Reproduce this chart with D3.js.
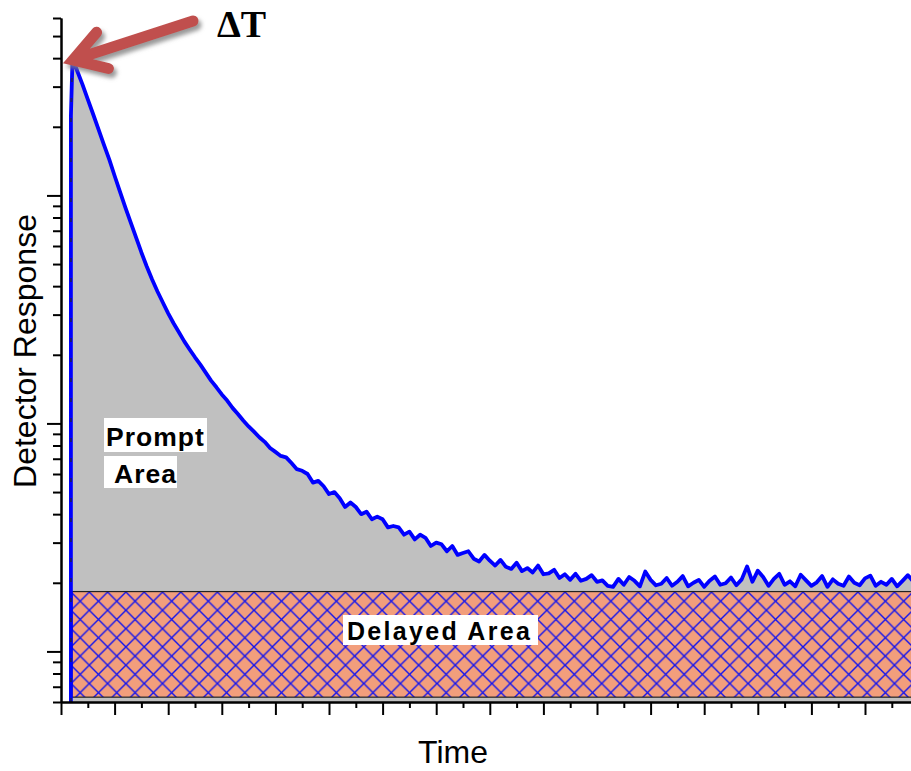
<!DOCTYPE html>
<html>
<head>
<meta charset="utf-8">
<script src="https://cdn.jsdelivr.net/npm/d3@7"></script>
<style>
html,body{margin:0;padding:0;background:#fff;}
svg{display:block;}
</style>
</head>
<body>
<svg id="chart" width="911" height="771"></svg>
<script>
// ---- data ----
const times = [0.185,0.185,0.215,0.3,0.4,0.5,0.6,0.7,0.8,0.9,1.0,1.1,1.2,1.3,1.4,1.5,1.6,1.7,1.8,1.9,2.0,
2.1,2.2,2.3,2.4,2.5,2.6,2.7,2.8,2.9,3.0,3.1,3.2,3.3,3.4,3.5,3.6,3.7,3.8,3.9,4.0,
4.1,4.2,4.3,4.4,4.5,4.6,4.7,4.8,4.9,5.0,5.1,5.2,5.3,5.4,5.5,5.6,5.7,5.8,5.9,6.0,
6.1,6.2,6.3,6.4,6.5,6.6,6.7,6.8,6.9,7.0,7.1,7.2,7.3,7.4,7.5,7.6,7.7,7.8,7.9,8.0,
8.1,8.2,8.3,8.4,8.5,8.6,8.7,8.8,8.9,9.0,9.1,9.2,9.3,9.4,9.5,9.6,9.7,9.8,9.9,10.0,
10.1,10.2,10.3,10.4,10.5,10.6,10.7,10.8,10.9,11.0,11.1,11.2,11.3,11.4,11.5,11.6,11.7,11.8,11.9,12.0,
12.1,12.2,12.3,12.4,12.5,12.6,12.7,12.8,12.9,13.0,13.1,13.2,13.3,13.4,13.5,13.6,13.7,13.8,13.9,14.0,
14.1,14.2,14.3,14.4,14.5,14.6,14.7,14.8,14.9,15.0,15.1,15.2,15.3,15.4,15.5,15.6,15.7,15.8,15.9];
const response = [6,2240,3990,3530,3070,2640,2270,1950,1670,1440,1220,1040,886,761,654,562,488,428,379,339,304,
275,251,229,211,195,181,167,154,144,134,126,117,110,103,97,92,87,83,78,
75,72,71,67,63,62,60,55,56,53,
49,50,47,43,45,43,40,41,38,39,
38,35,35.5,35,32.5,33.5,31,32.5,31.5,29,
30,29.5,27.5,29,26.5,27,27.5,25.5,24.8,26.5,
25,23.8,25.2,23.5,23,24.5,22.5,23.2,22.2,23.8,
21.8,22,22.8,21,21.8,20.6,21.9,20.4,20.8,21.6,
20.2,
20.5,19.4,19.2,20.8,19.6,21.2,20.4,19.3,22.4,20.6,
19.5,19.8,21,19.4,20.2,21.4,19.3,20,20.6,19.2,
20.4,21.3,19.6,19.9,21.1,19.5,20.7,23.6,20.2,22.6,
21.2,19.4,20.8,21.9,19.6,20.3,19.3,21.7,20.5,19.4,
20.1,21.4,19.2,20.7,19.8,19.4,21.3,20,19.5,20.9,
21.5,19.4,20.2,19.6,20.8,19.3,20.4,21.6,20.3];
const delayedLevel = 18.3;   // top of delayed area
const delayedFloor = 6.3;    // bottom of delayed area
const yDomain = [6, 6000];
const yMajorTicks = [10, 100, 1000];
const yMinorTicks = [6,7,8,9,20,30,40,50,60,70,80,90,200,300,400,500,600,700,800,900,2000,3000,4000,5000,6000];
const xDomain = [0, 16];
const xMajorTicks = [0,1,2,3,4,5,6,7,8,9,10,11,12,13,14,15];
const xMinorTicks = [0.5,1.5,2.5,3.5,4.5,5.5,6.5,7.5,8.5,9.5,10.5,11.5,12.5,13.5,14.5,15.5];
const labels = {y: "Detector Response", x: "Time", prompt1: "Prompt", prompt2: "Area", delayed: "Delayed Area", dT: "ΔT"};

// ---- drawing ----
const svg = d3.select("#chart");
const W = 911, H = 771;
svg.append("rect").attr("width", W).attr("height", H).attr("fill", "#fff");

const x = d3.scaleLinear().domain(xDomain).range([61, 61 + 16 * 53.6]);
const y = d3.scaleLog().domain(yDomain).range([702, 18]);

const data = times.map((t, i) => ({t, v: response[i]}));

const defs = svg.append("defs");
const pat = defs.append("pattern").attr("id", "hatch").attr("patternUnits", "userSpaceOnUse")
  .attr("width", 18.3).attr("height", 18.3).attr("x", 71).attr("y", 592);
pat.append("rect").attr("width", 18.3).attr("height", 18.3).attr("fill", "#f29e7c");
pat.append("path").attr("d", "M0,0L18.3,18.3M18.3,0L0,18.3M-1,17.3L1,19.3M17.3,-1L19.3,1")
  .attr("stroke", "#1414ee").attr("stroke-width", 1.4).attr("fill", "none");
const shadow = defs.append("filter").attr("id", "shadow").attr("x", "-20%").attr("y", "-40%").attr("width", "150%").attr("height", "200%");
shadow.append("feDropShadow").attr("dx", 3).attr("dy", 4).attr("stdDeviation", 2).attr("flood-color", "#808080").attr("flood-opacity", 0.8);
const clip = defs.append("clipPath").attr("id", "plotclip");
clip.append("rect").attr("x", 61).attr("y", 0).attr("width", W - 61).attr("height", 702);

const g = svg.append("g").attr("clip-path", "url(#plotclip)");

// prompt (gray) area
g.append("path").datum(data)
  .attr("d", d3.area().x(d => x(d.t)).y0(y(yDomain[0])).y1(d => y(d.v)))
  .attr("fill", "#c0c0c0");

// delayed area
const x0 = x(times[0]);
g.append("rect")
  .attr("x", x0 + 1).attr("y", y(delayedLevel))
  .attr("width", W - x0 + 5).attr("height", y(delayedFloor) - y(delayedLevel))
  .attr("fill", "url(#hatch)").attr("stroke", "#222").attr("stroke-width", 1.2);

// response line
const line = d3.line().x(d => x(d.t)).y(d => y(d.v));
g.append("path").datum(data).attr("d", line)
  .attr("fill", "none").attr("stroke", "#0000ff").attr("stroke-width", 3.8).attr("stroke-linejoin", "round");
// dashed overlay on rising edge
g.append("path").datum(data.slice(0, 3)).attr("d", line)
  .attr("fill", "none").attr("stroke", "#1a1a70").attr("stroke-width", 2).attr("stroke-dasharray", "4,16");

// axes
function styleAxis(sel) {
  sel.selectAll("path.domain").attr("stroke", "#000").attr("stroke-width", 2);
  sel.selectAll(".tick line").attr("stroke", "#000").attr("stroke-width", 2);
  sel.selectAll(".tick text").remove();
}
const yAxisG = svg.append("g").attr("transform", "translate(61,0)")
  .call(d3.axisLeft(y).tickValues(yMajorTicks).tickSize(14).tickSizeOuter(0).tickFormat(""));
styleAxis(yAxisG);
const yMinG = svg.append("g").attr("transform", "translate(61,0)")
  .call(d3.axisLeft(y).tickValues(yMinorTicks).tickSize(8).tickSizeOuter(0).tickFormat(""));
styleAxis(yMinG);
const xAxisG = svg.append("g").attr("transform", "translate(0,702)")
  .call(d3.axisBottom(x).tickValues(xMajorTicks).tickSize(13).tickSizeOuter(0).tickFormat(""));
styleAxis(xAxisG);
const xMinG = svg.append("g").attr("transform", "translate(0,702)")
  .call(d3.axisBottom(x).tickValues(xMinorTicks).tickSize(6).tickSizeOuter(0).tickFormat(""));
styleAxis(xMinG);

// axis titles
svg.append("text").attr("transform", "translate(36,351) rotate(-90)")
  .attr("text-anchor", "middle").attr("font-family", "Liberation Sans, Arial, sans-serif")
  .attr("font-size", 32).attr("fill", "#000").text(labels.y);
svg.append("text").attr("x", 453).attr("y", 763)
  .attr("text-anchor", "middle").attr("font-family", "Liberation Sans, Arial, sans-serif")
  .attr("font-size", 32).attr("fill", "#000").text(labels.x);

// label boxes
function labelBox(bx, by, bw, bh, tx, ty, txt, fs, ls) {
  svg.append("rect").attr("x", bx).attr("y", by).attr("width", bw).attr("height", bh).attr("fill", "#fff");
  svg.append("text").attr("x", tx).attr("y", ty).attr("font-family", "Liberation Sans, Arial, sans-serif")
    .attr("font-weight", "bold").attr("font-size", fs).attr("letter-spacing", ls).attr("fill", "#000").text(txt);
}
labelBox(104, 418, 103, 34, 106, 446, labels.prompt1, 26.5, 1);
labelBox(104, 456, 73, 32, 114, 483, labels.prompt2, 26.5, 1);
labelBox(343, 615, 195, 30, 347, 640, labels.delayed, 25, 2.3);

// arrow
const tip = [73, 60], tailPt = [193, 21];
const dx = tailPt[0] - tip[0], dy = tailPt[1] - tip[1], L = Math.hypot(dx, dy);
const ux = dx / L, uy = dy / L, px = -uy, py = ux;
const bxp = tip[0] + 31 * ux, byp = tip[1] + 31 * uy;
const w1 = [bxp + 19 * px, byp + 19 * py], w2 = [bxp - 19 * px, byp - 19 * py];
const arrow = svg.append("g").attr("filter", "url(#shadow)");
arrow.append("path")
  .attr("d", `M${tailPt[0]},${tailPt[1]}L${tip[0] + 3 * ux},${tip[1] + 3 * uy}M${w1[0]},${w1[1]}L${tip[0]},${tip[1]}L${w2[0]},${w2[1]}`)
  .attr("fill", "none").attr("stroke", "#c0504d").attr("stroke-width", 11)
  .attr("stroke-linecap", "round").attr("stroke-linejoin", "miter");

svg.append("text").attr("x", 217).attr("y", 37)
  .attr("font-family", "Liberation Serif, Times New Roman, serif").attr("font-weight", "bold")
  .attr("font-size", 38).attr("fill", "#000").text(labels.dT);
</script>
</body>
</html>
